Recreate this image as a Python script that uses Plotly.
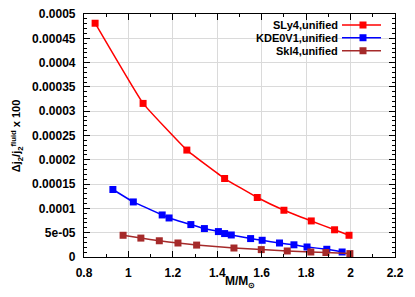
import plotly.graph_objects as go

# ---- data ----
sly4_m = [0.85, 1.066, 1.263, 1.433, 1.58, 1.70, 1.823, 1.928, 1.993]
sly4_dj = [0.000481, 0.000316, 0.000220, 0.0001615, 0.0001224, 0.0000962, 0.0000742, 0.000056, 0.0000447]

kde_m = [0.930, 1.022, 1.152, 1.183, 1.281, 1.342, 1.405, 1.433, 1.463, 1.550, 1.602, 1.680, 1.745, 1.804, 1.893, 1.962]
kde_dj = [0.0001389, 0.0001133, 0.0000865, 0.0000803, 0.0000667, 0.0000585, 0.0000523, 0.0000482, 0.0000453,
          0.0000379, 0.0000344, 0.0000288, 0.0000251, 0.0000206, 0.0000159, 0.0000103]

ski4_m = [0.976, 1.056, 1.139, 1.223, 1.307, 1.475, 1.598, 1.715, 1.821, 1.889, 1.997]
ski4_dj = [0.0000447, 0.0000389, 0.0000334, 0.0000288, 0.0000245, 0.0000185, 0.0000152, 0.0000124,
           0.0000103, 0.0000093, 0.000007]

series_names = ["SLy4,unified", "KDE0V1,unified", "Skl4,unified"]
series_colors = ["#ff0000", "#0000ff", "#a52a2a"]

y_tickvals = [0, 0.00005, 0.0001, 0.00015, 0.0002, 0.00025, 0.0003, 0.00035, 0.0004, 0.00045, 0.0005]
y_ticktext = ["0", "5e-05", "0.0001", "0.00015", "0.0002", "0.00025", "0.0003", "0.00035", "0.0004", "0.00045", "0.0005"]
x_tickvals = [0.8, 1.0, 1.2, 1.4, 1.6, 1.8, 2.0, 2.2]
x_ticktext = ["0.8", "1", "1.2", "1.4", "1.6", "1.8", "2", "2.2"]

# ---- layout geometry (pixels, in window coordinates) ----
W, H = 415, 297
L, R, T, B = 84, 395, 14, 256.7


def px_x(p):
    return (p - L) / (R - L)


def px_y(p):
    return (B - p) / (B - T)


FONT = dict(family="Liberation Sans, Arial, sans-serif", size=12, color="black", weight="bold")

fig = go.Figure()
for xs, ys, name, col in zip([sly4_m, kde_m, ski4_m], [sly4_dj, kde_dj, ski4_dj], series_names, series_colors):
    fig.add_trace(go.Scatter(
        x=xs, y=ys, name=name, mode="lines+markers",
        line=dict(color=col, width=1.5, shape="spline", smoothing=0.3),
        marker=dict(symbol="square", size=7, color=col),
        showlegend=False,
    ))

axis_common = dict(
    showline=True, linecolor="black", linewidth=1.2, mirror="ticks",
    ticks="inside", ticklen=6, tickcolor="black", tickwidth=1,
    showgrid=True, gridcolor="#dadada", gridwidth=1, zeroline=False,
    tickfont=FONT, tickmode="array", automargin=False,
)

fig.update_xaxes(
    range=[0.8, 2.2], tickvals=x_tickvals, ticktext=x_ticktext,
    minor=dict(dtick=0.1, tick0=0.8, ticks="inside", ticklen=3, tickcolor="black", showgrid=False),
    ticklabelstandoff=4,
    **axis_common,
)
fig.update_yaxes(
    range=[0, 0.0005], tickvals=y_tickvals, ticktext=y_ticktext,
    minor=dict(dtick=0.00001, tick0=0, ticks="inside", ticklen=3, tickcolor="black", showgrid=False),
    ticklabelstandoff=5,
    **axis_common,
)

annotations = [
    dict(text="M/M<sub>⊙</sub>", xref="paper", yref="paper", x=px_x((L + R) / 2), y=px_y(282),
         xanchor="center", yanchor="middle", showarrow=False, font=FONT),
    dict(text="Δj<sub>2</sub>/j<sub>2</sub><sup>fluid</sup> x 100", xref="paper", yref="paper",
         x=px_x(17), y=px_y(136), xanchor="center", yanchor="middle", textangle=-90,
         showarrow=False, font=dict(FONT, size=11)),
]

shapes = [
    # white legend background covering grid lines
    dict(type="rect", xref="paper", yref="paper", x0=px_x(243), x1=px_x(390), y0=px_y(57), y1=px_y(17),
         fillcolor="white", line=dict(width=0), layer="between"),
]

legend_rows = [25, 37.7, 50.7]
for name, col, ry in zip(series_names, series_colors, legend_rows):
    annotations.append(dict(text=name, xref="paper", yref="paper", x=px_x(339.5), y=px_y(ry),
                            xanchor="right", yanchor="middle", showarrow=False,
                            font=dict(FONT, size=11)))
    shapes.append(dict(type="line", xref="paper", yref="paper", x0=px_x(342), x1=px_x(381),
                       y0=px_y(ry), y1=px_y(ry), line=dict(color=col, width=1.5), layer="above"))
    shapes.append(dict(type="rect", xref="paper", yref="paper", x0=px_x(359.5), x1=px_x(366.5),
                       y0=px_y(ry + 3.5), y1=px_y(ry - 3.5), fillcolor=col, line=dict(width=0),
                       layer="above"))

fig.update_layout(
    width=W, height=H,
    margin=dict(l=L, r=W - R, t=T, b=H - B, pad=0, autoexpand=False),
    plot_bgcolor="white", paper_bgcolor="white",
    font=FONT,
    annotations=annotations, shapes=shapes,
    showlegend=False,
)

fig.write_html("out.html",
               config={"displayModeBar": False},
               post_script="document.body.style.margin='0';document.body.style.overflow='hidden';")
